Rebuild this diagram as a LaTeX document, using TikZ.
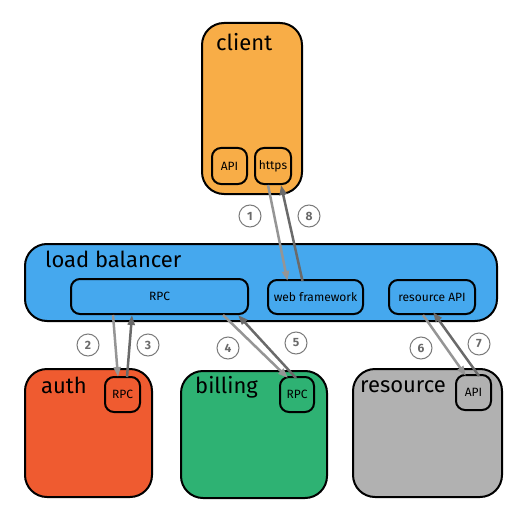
\documentclass[tikz,border=0pt]{standalone}
\usepackage{fontspec}
\setmainfont{Fira Sans}
\usetikzlibrary{arrows.meta,calc}
\definecolor{cclient}{HTML}{F8AD47}
\definecolor{clb}{HTML}{45A8EE}
\definecolor{cauth}{HTML}{EF5B30}
\definecolor{cbill}{HTML}{2EB273}
\definecolor{cres}{HTML}{B1B1B1}
\definecolor{carrowA}{HTML}{959595}
\definecolor{carrowB}{HTML}{6A6A6A}
\definecolor{ccirc}{HTML}{7A7A7A}
\tikzset{
  bigbox/.style={draw=black, line width=2bp, rounded corners=22bp, inner sep=0, anchor=north west},
  smallbox/.style={draw=black, line width=2bp, rounded corners=9bp, inner sep=0, font=\fontsize{12bp}{14bp}\selectfont, anchor=north west},
  title/.style={font=\fontsize{22bp}{26bp}\selectfont, anchor=base west, inner sep=0},
  numcirc/.style={circle, draw=ccirc, line width=1bp, minimum size=22bp, inner sep=0, text=carrowB, font=\bfseries\fontsize{12bp}{14bp}\selectfont},
  req/.style={draw=carrowA, line width=2.5bp, -{Triangle[length=10bp,width=7bp]}},
  resp/.style={draw=carrowB, line width=2.5bp, -{Triangle[length=10bp,width=7bp]}},
}
\begin{document}
\begin{tikzpicture}[x=1bp,y=-1bp]
\useasboundingbox (0,0) rectangle (520,518);
% big boxes
\node[bigbox, fill=cclient, minimum width=100bp, minimum height=171bp] (client) at (201,22) {};
\node[bigbox, fill=clb, minimum width=472bp, minimum height=77bp] (lb) at (24,243) {};
\node[bigbox, fill=cauth, minimum width=127bp, minimum height=128bp] (auth) at (24,368) {};
\node[bigbox, fill=cbill, minimum width=146bp, minimum height=127bp] (bill) at (180,370) {};
\node[bigbox, fill=cres, minimum width=149bp, minimum height=128bp] (res) at (352,368) {};
% titles
\node[title] (tclient) at (216,51) {client};
\node[title] (tlb) at (45,267) {load balancer};
\node[title] (tauth) at (41,393) {auth};
\node[title] (tbill) at (195,393) {billing};
\node[title] (tres) at (360,392) {resource};
% small boxes
\node[smallbox, fill=cclient, minimum width=35bp, minimum height=36bp] (capi) at (211,147) {API};
\node[smallbox, fill=cclient, minimum width=36bp, minimum height=36bp] (https) at (254,147) {https};
\node[smallbox, fill=clb, minimum width=177bp, minimum height=35bp] (lbrpc) at (70,278) {RPC};
\node[smallbox, fill=clb, minimum width=95bp, minimum height=34bp] (web) at (267,279) {web framework};
\node[smallbox, fill=clb, minimum width=86bp, minimum height=34bp] (rapi) at (388,279) {resource API};
\node[smallbox, fill=cauth, minimum width=35bp, minimum height=35bp] (arpc) at (104,376) {RPC};
\node[smallbox, fill=cbill, minimum width=34bp, minimum height=35bp] (brpc) at (279,376) {RPC};
\node[smallbox, fill=cres, minimum width=35bp, minimum height=35bp] (resapi) at (455,374) {API};
% arrows
\draw[req] ([xshift=-5bp]https.south) -- ([xshift=-28bp,yshift=-2bp]web.north);
\draw[resp] ([xshift=-13bp,yshift=-2bp]web.north) -- ([xshift=8bp]https.south);
\draw[req] ([xshift=-46.5bp]lbrpc.south) -- ([xshift=-4.5bp,yshift=-1bp]arpc.north);
\draw[resp] ([xshift=4.5bp,yshift=-1bp]arpc.north) -- ([xshift=-27.5bp]lbrpc.south);
\draw[req] ([xshift=63.5bp]lbrpc.south) -- ([xshift=-9bp,yshift=-2bp]brpc.north);
\draw[resp] ([xshift=-1bp,yshift=-2bp]brpc.north) -- ([xshift=78.5bp]lbrpc.south);
\draw[req] ([xshift=-9bp]rapi.south) -- ([xshift=-7.5bp,yshift=-2bp]resapi.north);
\draw[resp] ([xshift=5.5bp,yshift=-2bp]resapi.north) -- ([xshift=1bp,yshift=3bp]rapi.south);
% step numbers
\node[numcirc] (n1) at (250,216) {1};
\node[numcirc] (n8) at (309,216) {8};
\node[numcirc] (n2) at (88,345) {2};
\node[numcirc] (n3) at (148,345) {3};
\node[numcirc] (n4) at (228,348) {4};
\node[numcirc] (n5) at (296,343) {5};
\node[numcirc] (n6) at (421,348) {6};
\node[numcirc] (n7) at (479,344) {7};
\end{tikzpicture}
\end{document}
